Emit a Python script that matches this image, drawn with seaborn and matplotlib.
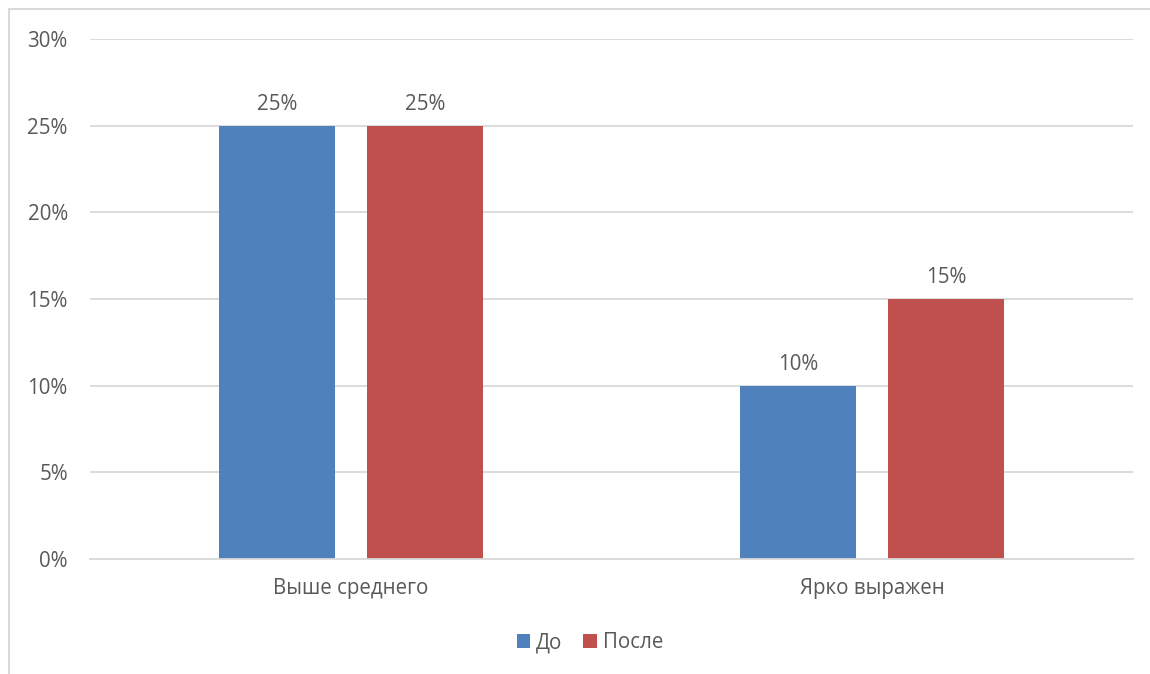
import matplotlib
matplotlib.use("Agg")
import matplotlib.pyplot as plt
import matplotlib.patches as mpatches
from matplotlib.ticker import FuncFormatter, MultipleLocator
import seaborn as sns
import pandas as pd

categories = ["Выше среднего", "Ярко выражен"]
series = ["До", "После"]
before = [25, 10]
after = [25, 15]
colors = ["#4F81BD", "#C0504D"]

df = pd.DataFrame({
    "category": categories * 2,
    "period": [series[0]] * len(categories) + [series[1]] * len(categories),
    "value": before + after,
})

sns.set_theme(style="white")
plt.rcParams["font.family"] = ["Open Sans", "DejaVu Sans"]
text_color = "#595959"
grid_color = "#D9D9D9"
fs = 14.8

W, H = 1150, 674
fig = plt.figure(figsize=(W / 100, H / 100), dpi=100)
ax = fig.add_axes([90 / W, (H - 559) / H, (1133 - 90) / W, (559 - 39) / H])

sns.barplot(data=df, x="category", y="value", hue="period", order=categories,
            hue_order=series, palette=colors, width=0.5676, gap=0.216,
            saturation=1, linewidth=0, ax=ax, legend=True)

ax.set_ylim(0, 30)
ax.set_xlim(-0.5, len(categories) - 0.5)
ax.yaxis.set_major_locator(MultipleLocator(5))
ax.yaxis.set_major_formatter(FuncFormatter(lambda v, p: f"{v:.0f}%"))
ax.grid(axis="y", color=grid_color, linewidth=1.3)
ax.set_axisbelow(True)
for s in ["top", "right", "left"]:
    ax.spines[s].set_visible(False)
ax.spines["bottom"].set_color(grid_color)
ax.spines["bottom"].set_linewidth(1.3)
ax.set_xlabel("")
ax.set_ylabel("")
ax.tick_params(axis="y", length=0, pad=16, labelsize=fs, labelcolor=text_color)
ax.tick_params(axis="x", length=0, pad=14, labelsize=fs, labelcolor=text_color)

for cont in ax.containers:
    ax.bar_label(cont, labels=[f"{v:.0f}%" for v in cont.datavalues],
                 padding=8, fontsize=fs, color=text_color)

leg = ax.legend(loc="center", bbox_to_anchor=(590 / W, 1 - 643 / H),
                bbox_transform=fig.transFigure, ncol=2, frameon=False,
                fontsize=fs, handlelength=0.65, handleheight=0.65,
                handletextpad=0.3, columnspacing=1.0, labelcolor=text_color)

# chart frame
fig.patches.append(mpatches.Rectangle((9 / W, -0.05), 1.1, 1 - 9 / H + 0.05,
                                      transform=fig.transFigure, fill=False,
                                      edgecolor=grid_color, linewidth=1.5))

fig.savefig("out.png", dpi=100)
